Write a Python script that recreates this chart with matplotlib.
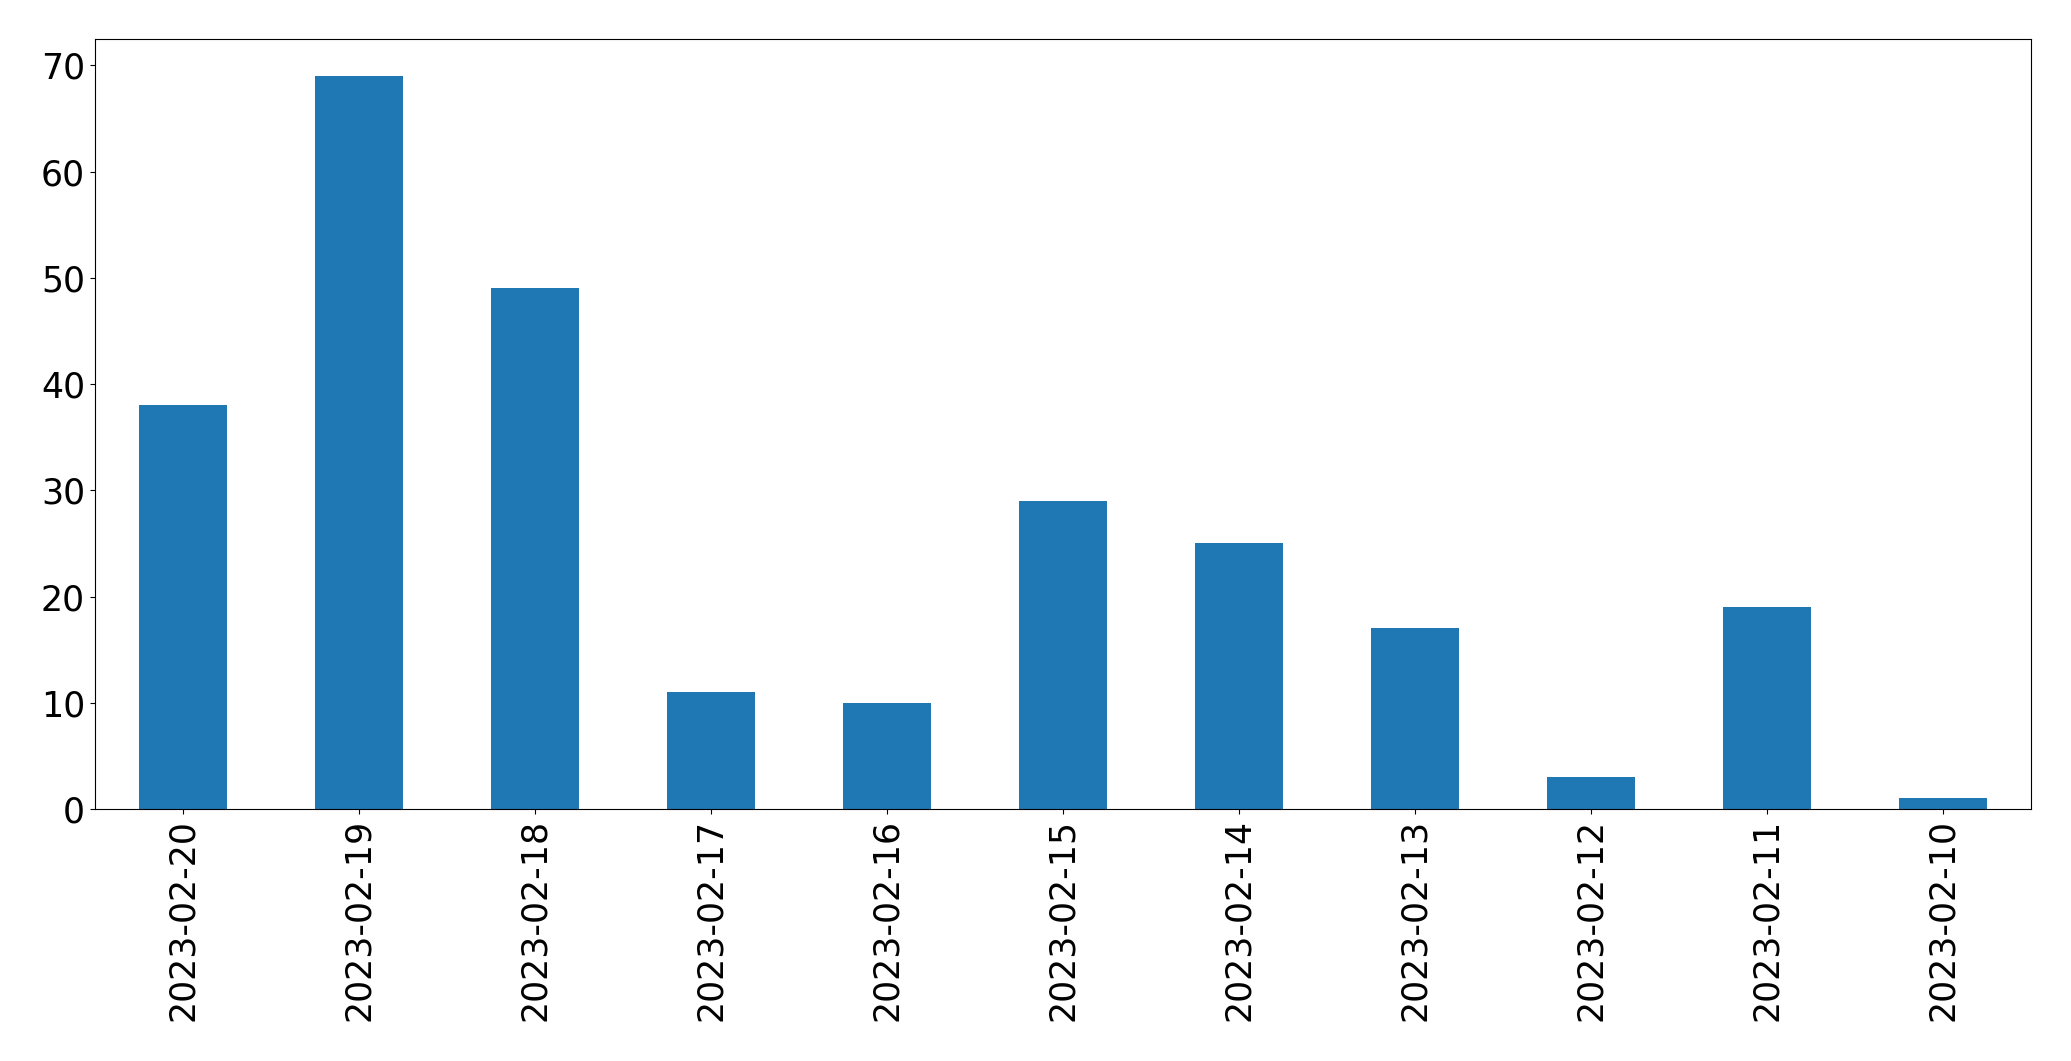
import matplotlib
matplotlib.use("Agg")
import matplotlib.pyplot as plt
import pandas as pd

dates = ["2023-02-20", "2023-02-19", "2023-02-18", "2023-02-17", "2023-02-16",
         "2023-02-15", "2023-02-14", "2023-02-13", "2023-02-12", "2023-02-11",
         "2023-02-10"]
counts = [38, 69, 49, 11, 10, 29, 25, 17, 3, 19, 1]

fig = plt.figure(figsize=(20.71, 10.61), dpi=100)
ax = fig.add_axes([94.7/2071, 1 - 809/1061, (2031.3 - 94.7)/2071, (809 - 39.3)/1061])
s = pd.Series(counts, index=dates)
s.plot.bar(ax=ax, color="#1f77b4", width=0.5)
ax.tick_params(axis="both", labelsize=25)
ax.set_ylim(0, max(counts) * 1.05)
fig.savefig("out.png", dpi=100)
